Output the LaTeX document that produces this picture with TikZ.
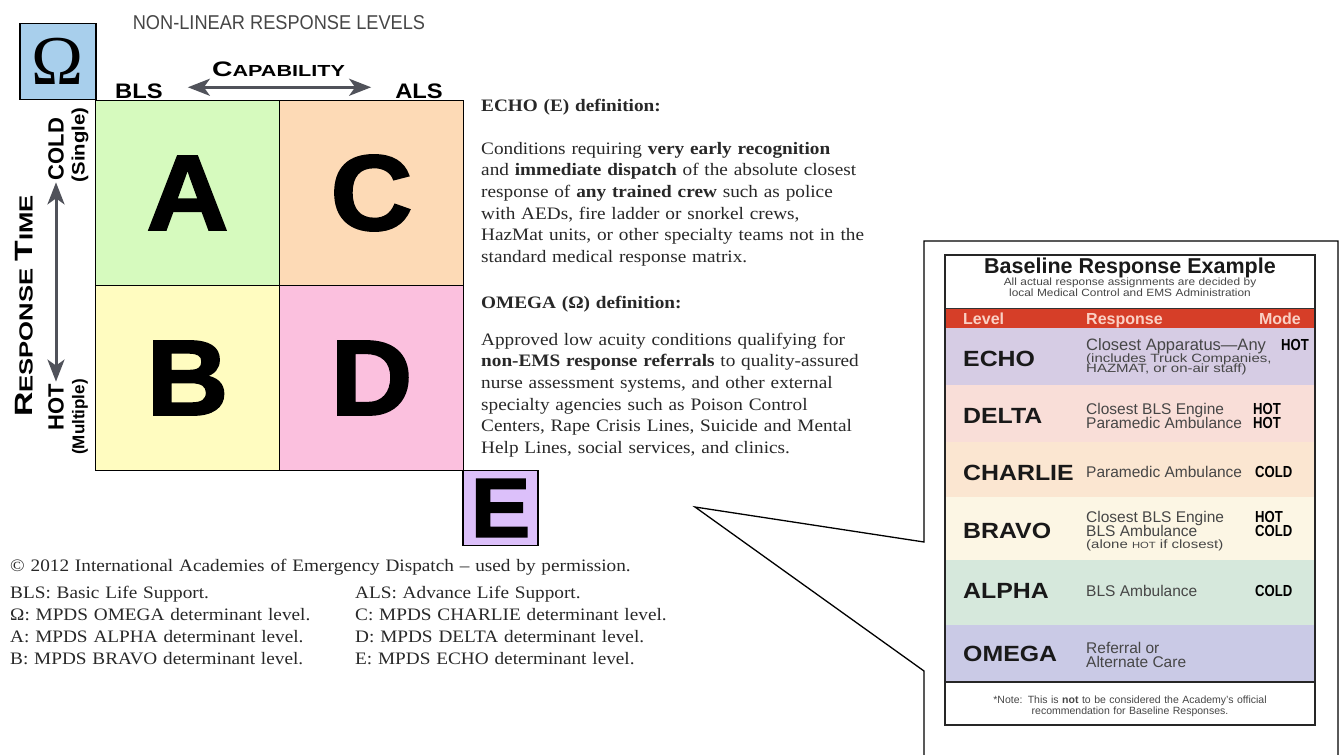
\documentclass[tikz,border=0pt]{standalone}
\usepackage{fontspec}
\setmainfont{Liberation Serif}
\setsansfont{Liberation Sans}
\newfontfamily\widerm{Liberation Serif}[FakeStretch=1.1]
\newfontfamily\widesans{Liberation Sans}[FakeStretch=1.13]
\newfontfamily\smallsans{Liberation Sans}[FakeStretch=1.25]
\newfontfamily\extsans{Liberation Sans}[FakeStretch=1.35]
\newfontfamily\narrowsans{Liberation Sans}[FakeStretch=0.91]
\newfontfamily\modesans{Liberation Sans}[FakeStretch=0.82]
\newfontfamily\blacksans{Liberation Sans}[FakeStretch=1.06, BoldFeatures={FakeBold=2}]
\usepackage{tikz}
\usetikzlibrary{arrows.meta, positioning}
\definecolor{omegablue}{RGB}{168,207,236}
\definecolor{cellA}{RGB}{214,250,190}
\definecolor{cellB}{RGB}{255,252,192}
\definecolor{cellC}{RGB}{253,218,182}
\definecolor{cellD}{RGB}{251,192,222}
\definecolor{cellE}{RGB}{220,192,250}
\definecolor{arrowgray}{RGB}{80,82,90}
\definecolor{textdark}{RGB}{40,40,40}
\definecolor{titlegray}{RGB}{70,70,70}
\definecolor{barred}{RGB}{214,62,40}
\definecolor{barlabel}{RGB}{250,208,196}
\definecolor{rowecho}{RGB}{214,204,228}
\definecolor{rowdelta}{RGB}{249,222,216}
\definecolor{rowcharlie}{RGB}{251,230,209}
\definecolor{rowbravo}{RGB}{252,246,228}
\definecolor{rowalpha}{RGB}{214,232,220}
\definecolor{rowomega}{RGB}{202,202,230}
\definecolor{resptext}{RGB}{70,70,70}
\tikzset{
  txt/.style={inner sep=0pt, text=textdark},
  axislbl/.style={inner sep=0pt, text=black,
    font=\widesans\bfseries\fontsize{21}{21}\selectfont},
  sidelbl/.style={inner sep=0pt, text=black, rotate=90,
    font=\sffamily\bfseries\fontsize{22}{22}\selectfont},
  sidenote/.style={inner sep=0pt, text=black, rotate=90,
    font=\sffamily\bfseries\fontsize{17}{17}\selectfont},
  cell/.style={rectangle, draw=black, line width=1.5pt, inner sep=0pt,
    minimum width=184pt, minimum height=185pt,
    font=\blacksans\bfseries\fontsize{107}{107}\selectfont},
  cornerbox/.style={rectangle, draw=black, line width=1.5pt, inner sep=0pt,
    minimum size=75pt},
  twoway/.style={{Stealth[length=22pt,width=17pt,inset=6pt]}-{Stealth[length=22pt,width=17pt,inset=6pt]},
    line width=3pt, draw=arrowgray},
  para/.style={inner sep=0pt, text=textdark, text width=460pt, align=left,
    font=\widerm\fontsize{17.5}{21.7}\selectfont},
  legendtxt/.style={inner sep=0pt, text=textdark, text width=340pt, align=left,
    font=\widerm\fontsize{17.5}{22.3}\selectfont},
  lvl/.style={inner sep=0pt, anchor=west, text=black!90,
    font=\widesans\bfseries\fontsize{22}{22}\selectfont},
  resp/.style={inner sep=0pt, anchor=base west, text=resptext,
    font=\sffamily\fontsize{15.5}{15.5}\selectfont},
  respsmall/.style={resp, font=\smallsans\fontsize{12}{12}\selectfont},
  modetxt/.style={inner sep=0pt, anchor=base west, text=black,
    font=\modesans\bfseries\fontsize{16}{16}\selectfont},
  barhead/.style={inner sep=0pt, anchor=base west, text=barlabel,
    font=\sffamily\bfseries\fontsize{16}{16}\selectfont},
  cardsmall/.style={inner sep=0pt, anchor=base, text=resptext,
    text width=360pt, align=center},
  calloutline/.style={draw=black, fill=white, line width=1.3pt},
  cardframe/.style={draw=black!85, line width=2.2pt}
}

\begin{document}
\begin{tikzpicture}[x=1pt, y=1pt]
  \useasboundingbox (0,0) rectangle (1342,-755);
  \clip (0,0) rectangle (1342,-755);

  % Title and capability axis
  \node[txt, text=titlegray, font=\narrowsans\fontsize{20}{20}\selectfont] (title) at (279,-22.5) {NON-LINEAR RESPONSE LEVELS};
  \node[txt, text=black, anchor=base, font=\extsans\bfseries\fontsize{16}{16}\selectfont] (capability) at (278.5,-76) {{\fontsize{21}{21}\selectfont C}APABILITY};
  \node[axislbl, anchor=base west] (bls) at (115,-98) {BLS};
  \node[axislbl, anchor=base east] (als) at (443,-98) {ALS};
  \draw[twoway] ([xshift=25pt,yshift=3.5pt]bls.east) -- ([xshift=-24pt,yshift=3.5pt]als.west);

  % Omega corner box
  \node[cornerbox, fill=omegablue, minimum size=76pt, font=\rmfamily\fontsize{70}{70}\selectfont] (omegabox) at (58,-61.5) {Ω};

  % Response level grid
  \node[cell, fill=cellA] (cellA) at (187.5,-193) {A};
  \node[cell, fill=cellC] (cellC) at (371.5,-193) {C};
  \node[cell, fill=cellB] (cellB) at (187.5,-378) {B};
  \node[cell, fill=cellD] (cellD) at (371.5,-378) {D};
  \node[cornerbox, fill=cellE, font=\blacksans\bfseries\fontsize{84}{84}\selectfont] (cellE) at (500.5,-508) {E};

  % Response time axis
  \node[txt, text=black, rotate=90, font=\extsans\bfseries\fontsize{19}{19}\selectfont] (resptime) at (24,-306) {{\fontsize{25}{25}\selectfont R}ESPONSE {\fontsize{25}{25}\selectfont T}IME};
  \node[sidelbl] (cold) at (56,-149) {COLD};
  \node[sidelbl] (hot) at (56,-407) {HOT};
  \node[sidenote, font=\widesans\bfseries\fontsize{18}{18}\selectfont] (single) at (80,-145) {(Single)};
  \node[sidenote] (multiple) at (80,-417) {(Multiple)};
  \draw[twoway] ([yshift=-2pt]cold.west) -- ([yshift=2pt]hot.east);

  % Definitions
  \node[para, anchor=base west] (echohead) at (481,-111) {\textbf{ECHO (E) definition:}};
  \node[para, anchor=base west] (echotext) at (481,-154) {Conditions requiring \textbf{very early recognition}\\
    and \textbf{immediate dispatch} of the absolute closest\\
    response of \textbf{any trained crew} such as police\\
    with AEDs, fire ladder or snorkel crews,\\
    HazMat units, or other specialty teams not in the\\
    standard medical response matrix.};
  \node[para, anchor=base west] (omegahead) at (481,-308) {\textbf{OMEGA (Ω) definition:}};
  \node[para, anchor=base west] (omegatext) at (481,-345) {Approved low acuity conditions qualifying for\\
    \textbf{non-EMS response referrals} to quality-assured\\
    nurse assessment systems, and other external\\
    specialty agencies such as Poison Control\\
    Centers, Rape Crisis Lines, Suicide and Mental\\
    Help Lines, social services, and clinics.};

  % Credits and abbreviations
  \node[legendtxt, text width=700pt, anchor=base west] (credit) at (10,-571) {© 2012 International Academies of Emergency Dispatch – used by permission.};
  \node[legendtxt, anchor=base west] (legleft) at (10,-598) {BLS: Basic Life Support.\\
    Ω: MPDS OMEGA determinant level.\\
    A: MPDS ALPHA determinant level.\\
    B: MPDS BRAVO determinant level.};
  \node[legendtxt, anchor=base west] (legright) at (355,-598) {ALS: Advance Life Support.\\
    C: MPDS CHARLIE determinant level.\\
    D: MPDS DELTA determinant level.\\
    E: MPDS ECHO determinant level.};

  % Callout with the baseline card
  \coordinate (tip) at (695,-507);
  \draw[calloutline] (924,-542) -- (tip) -- (924,-671) -- (924,-770) -- (1338,-770) -- (1338,-241) -- (924,-241) -- cycle;

  \fill[white] (945,-255) rectangle (1315,-308);
  \fill[barred] (945,-308) rectangle (1315,-328);
  \fill[rowecho] (945,-328) rectangle (1315,-385);
  \fill[rowdelta] (945,-385) rectangle (1315,-442);
  \fill[rowcharlie] (945,-442) rectangle (1315,-497);
  \fill[rowbravo] (945,-497) rectangle (1315,-560);
  \fill[rowalpha] (945,-560) rectangle (1315,-625);
  \fill[rowomega] (945,-625) rectangle (1315,-682);
  \draw[black!80, line width=1pt] (945,-308) -- (1315,-308);
  \draw[black!85, line width=2pt] (945,-682) -- (1315,-682);
  \draw[cardframe] (945,-255) rectangle (1315,-725);

  \node[txt, text=black!90, anchor=base, font=\sffamily\bfseries\fontsize{21.5}{21.5}\selectfont] (cardtitle) at (1130,-273.5) {Baseline Response Example};
  \node[cardsmall, font=\widesans\fontsize{10.5}{9.5}\selectfont] (cardsub) at (1130,-285.5) {All actual response assignments are decided by\\ local Medical Control and EMS Administration};

  \node[barhead] (hlevel) at (963,-324) {Level};
  \node[barhead] (hresp) at (1086,-324) {Response};
  \node[barhead, anchor=base east] (hmode) at (1301,-324) {Mode};

  % ECHO
  \node[lvl] (echo) at (963,-359) {ECHO};
  \node[resp, font=\sffamily\fontsize{16.5}{16.5}\selectfont] (echoA) at (1086,-350.5) {Closest Apparatus—Any};
  \node[respsmall] (echoB) at (1086,-362.5) {(includes Truck Companies,};
  \node[respsmall] (echoC) at (1086,-372.5) {HAZMAT, or on-air staff)};
  \node[modetxt] (echomode) at (1281,-350.5) {HOT};
  % DELTA
  \node[lvl] (delta) at (963,-415.5) {DELTA};
  \node[resp] (deltaA) at (1086,-414) {Closest BLS Engine};
  \node[resp] (deltaB) at (1086,-428.5) {Paramedic Ambulance};
  \node[modetxt] (deltamodeA) at (1253,-414) {HOT};
  \node[modetxt] (deltamodeB) at (1253,-428.5) {HOT};
  % CHARLIE
  \node[lvl] (charlie) at (963,-472.5) {CHARLIE};
  \node[resp] (charlieA) at (1086,-477.5) {Paramedic Ambulance};
  \node[modetxt] (charliemode) at (1255,-477.5) {COLD};
  % BRAVO
  \node[lvl] (bravo) at (963,-530.5) {BRAVO};
  \node[resp] (bravoA) at (1086,-522) {Closest BLS Engine};
  \node[resp] (bravoB) at (1086,-536.5) {BLS Ambulance};
  \node[respsmall] (bravoC) at (1086,-548.5) {(alone {\fontsize{9}{9}\selectfont HOT} if closest)};
  \node[modetxt] (bravomodeA) at (1255,-522) {HOT};
  \node[modetxt] (bravomodeB) at (1255,-536.5) {COLD};
  % ALPHA
  \node[lvl] (alpha) at (963,-591) {ALPHA};
  \node[resp] (alphaA) at (1086,-596.5) {BLS Ambulance};
  \node[modetxt] (alphamode) at (1255,-596.5) {COLD};
  % OMEGA
  \node[lvl] (omega) at (963,-654) {OMEGA};
  \node[resp] (omegaA) at (1086,-653.5) {Referral or};
  \node[resp] (omegaB) at (1086,-667) {Alternate Care};

  \node[cardsmall, font=\sffamily\fontsize{10.5}{11}\selectfont] (cardnote) at (1130,-703) {*Note: This is \textbf{not} to be considered the Academy's official\\ recommendation for Baseline Responses.};
\end{tikzpicture}
\end{document}
